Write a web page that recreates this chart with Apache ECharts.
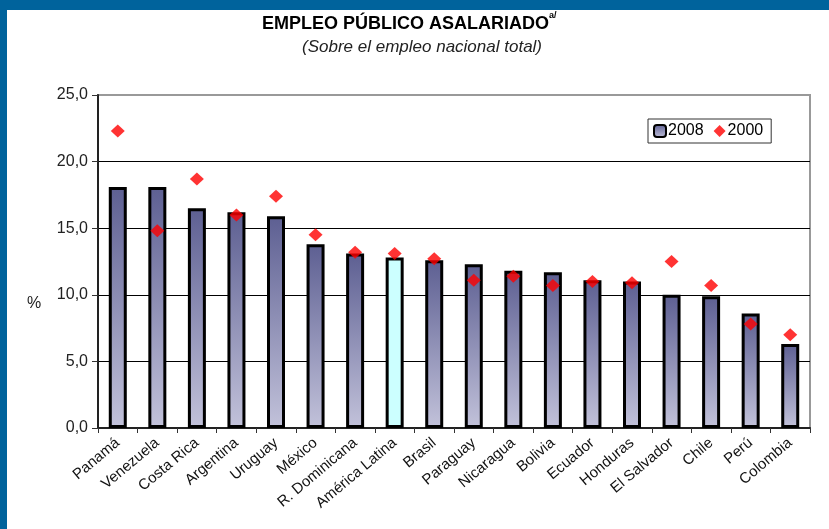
<!DOCTYPE html>
<html>
<head>
<meta charset="utf-8">
<script src="https://cdn.jsdelivr.net/npm/echarts@6/dist/echarts.min.js"></script>
<style>
html,body{margin:0;padding:0;background:#fff;}
#chart{width:829px;height:529px;}
</style>
</head>
<body>
<div id="chart"></div>
<script>
var categories = ['Panamá','Venezuela','Costa Rica','Argentina','Uruguay','México','R. Dominicana','América Latina','Brasil','Paraguay','Nicaragua','Bolivia','Ecuador','Honduras','El Salvador','Chile','Perú','Colombia'];
var values2008 = [18.1,18.1,16.5,16.2,15.9,13.8,13.1,12.8,12.6,12.3,11.8,11.7,11.1,11.0,10.0,9.9,8.6,6.3];
var values2000 = [22.3,14.8,18.7,16.0,17.4,14.5,13.2,13.1,12.7,11.1,11.4,10.7,11.0,10.9,12.5,10.7,7.8,7.0];
var highlight = 'América Latina';
var yTicks = [0,5,10,15,20,25];

var chart = echarts.init(document.getElementById('chart'), null, {renderer:'canvas'});
var FONT = 'Liberation Sans, Arial, sans-serif';
var barGrad = new echarts.graphic.LinearGradient(0,0,0,1,[
  {offset:0,color:'#5d5f92'},
  {offset:1,color:'#c2c2da'}
]);
var barData = values2008.map(function(v,i){
  if (categories[i] === highlight) {
    return {value:v, itemStyle:{color:'#ccffff'}};
  }
  return v;
});
var option = {
  backgroundColor:'#ffffff',
  animation:false,
  textStyle:{fontFamily:FONT},
  title:[
    {text:'{t|EMPLEO PÚBLICO ASALARIADO}{s|a/}', left:257, top:6,
     textStyle:{rich:{
       t:{fontFamily:FONT,fontWeight:'bold',fontSize:18,color:'#000',verticalAlign:'bottom',lineHeight:22},
       s:{fontFamily:FONT,fontSize:9,color:'#000',verticalAlign:'top',lineHeight:22,padding:[0,0,12,0]}
     }}},
    {text:'(Sobre el empleo nacional total)', left:297, top:34,
     textStyle:{fontFamily:FONT,fontStyle:'italic',fontWeight:'normal',fontSize:17,color:'#222'}}
  ],
  legend:{
    left:648, top:119,
    orient:'horizontal',
    padding:[4,8,4,5],
    itemGap:10,
    itemWidth:12, itemHeight:12,
    borderColor:'#333', borderWidth:1,
    backgroundColor:'#fff',
    textStyle:{fontFamily:FONT,fontSize:16,color:'#000',padding:[0,0,0,-3]},
    data:['2008','2000']
  },
  grid:{left:98, right:19, top:95, bottom:101, show:true, borderColor:'#999', borderWidth:2, containLabel:false},
  xAxis:{
    type:'category',
    data:categories,
    boundaryGap:true,
    axisLine:{show:true, lineStyle:{color:'#222', width:2}},
    axisTick:{show:true, interval:0, length:5, lineStyle:{color:'#333', width:1}},
    axisLabel:{interval:0, rotate:40, margin:13, fontFamily:FONT, fontSize:15, color:'#111'}
  },
  yAxis:{
    type:'value',
    min:0, max:25, interval:5,
    axisLine:{show:true, lineStyle:{color:'#222', width:2}},
    axisTick:{show:true, inside:false, length:6, lineStyle:{color:'#333', width:1}},
    axisLabel:{margin:10, fontFamily:FONT, fontSize:16, color:'#222',
      formatter:function(v){ return v.toFixed(1).replace('.', ','); }},
    splitLine:{show:true, lineStyle:{color:['#000','#000','#000','#000','#000','#999'], width:1}}
  },
  graphic:[
    {type:'rect', left:0, top:0, shape:{width:829, height:10}, style:{fill:'#00639c'}, z:100},
    {type:'rect', left:0, top:0, shape:{width:7, height:529}, style:{fill:'#00639c'}, z:100},
    {type:'text', left:27, top:296, style:{text:'%', font:'16px ' + FONT, fill:'#222'}}
  ],
  series:[
    {name:'2008', type:'bar', data:barData, barWidth:18,
     itemStyle:{color:barGrad, borderColor:'#000', borderWidth:3}, z:2},
    {name:'2000', type:'scatter', data:values2000, symbol:'diamond', symbolSize:[14,13],
     itemStyle:{color:'#ff0000'}, z:3}
  ]
};
chart.setOption(option);
</script>
</body>
</html>
